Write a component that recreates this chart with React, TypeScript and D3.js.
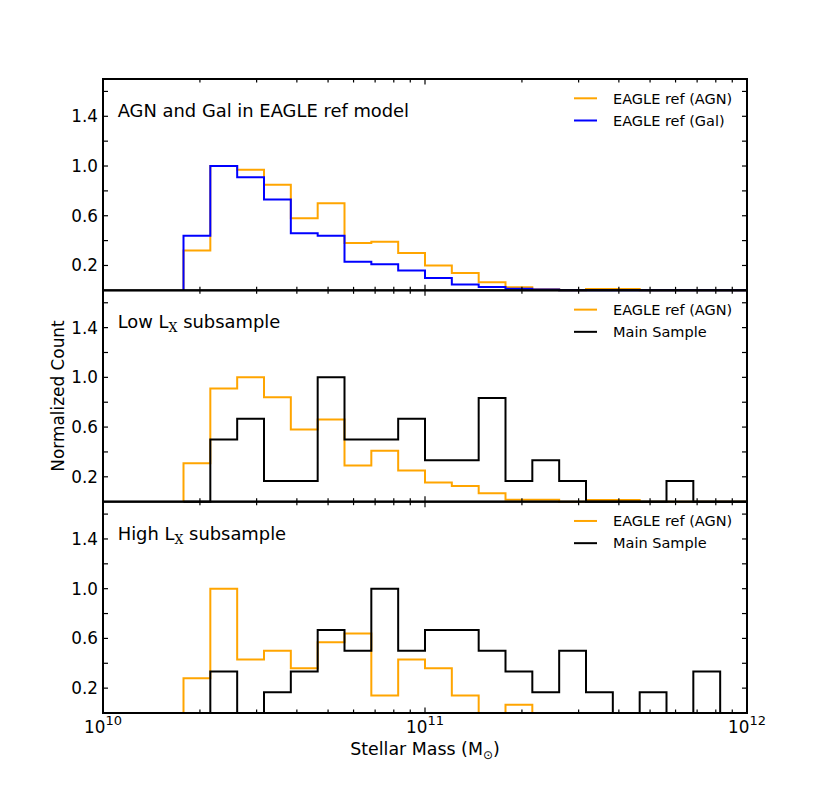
import React from "react";
import * as d3 from "d3";

// log10(stellar mass) bin edges
const binEdgesLog = [
  10.25, 10.3333, 10.4167, 10.5, 10.5833, 10.6667, 10.75, 10.8333, 10.9167, 11.0,
  11.0833, 11.1667, 11.25, 11.3333, 11.4167, 11.5, 11.5833, 11.6667, 11.75, 11.8333,
  11.9167, 12.0,
];

// Panel 1: AGN and Gal in EAGLE ref model
const topAgn = [0.32, 1.0, 0.97, 0.85, 0.58, 0.70, 0.38, 0.39, 0.30, 0.20, 0.14, 0.065, 0.025, 0.008, 0, 0.01, 0.01, 0, 0, 0, 0];
const topGal = [0.44, 1.0, 0.91, 0.73, 0.46, 0.44, 0.23, 0.21, 0.16, 0.10, 0.046, 0.027, 0.012, 0.006, 0, 0, 0, 0, 0, 0, 0];

// Panel 2: Low Lx subsample
const lowAgn = [0.31, 0.91, 1.0, 0.84, 0.58, 0.66, 0.29, 0.41, 0.25, 0.155, 0.127, 0.067, 0.016, 0.016, 0, 0.014, 0.014, 0, 0, 0, 0];
const lowMain = [0, 0.5, 0.667, 0.167, 0.167, 1.0, 0.5, 0.5, 0.667, 0.333, 0.333, 0.833, 0.167, 0.333, 0.167, 0, 0, 0, 0.167, 0, 0];

// Panel 3: High Lx subsample
const highAgn = [0.28, 1.0, 0.43, 0.5, 0.36, 0.57, 0.64, 0.14, 0.43, 0.36, 0.14, 0, 0.067, 0, 0, 0, 0, 0, 0, 0, 0];
const highMain = [0, 0.333, 0, 0.167, 0.333, 0.667, 0.5, 1.0, 0.5, 0.667, 0.667, 0.5, 0.333, 0.167, 0.5, 0.167, 0, 0.167, 0, 0.333, 0];

const yTicks = [0.2, 0.4, 0.6, 0.8, 1.0, 1.2, 1.4, 1.6];
const yTickLabels = ["0.2", "0.6", "1.0", "1.4"];
const xMajorExp = [10, 11, 12];
const xMinorMult = [2, 3, 4, 5, 6, 7, 8, 9];

const FONT = "DejaVu Sans";
const ORANGE = "#FFA500";
const BLUE = "#0000FF";
const BLACK = "#000000";

const W = 830, H = 793;
const X0 = 103, X1 = 747;
const TOP = 79, BOTTOM = 713;
const PH = (BOTTOM - TOP) / 3;

const xScale = d3.scaleLog().domain([1e10, 1e12]).range([X0, X1]);

type Series = { values: number[]; color: string; label: string };
type Panel = { title: string; sub?: string; series: Series[] };

const panels: Panel[] = [
  {
    title: "AGN and Gal in EAGLE ref model",
    series: [
      { values: topAgn, color: ORANGE, label: "EAGLE ref (AGN)" },
      { values: topGal, color: BLUE, label: "EAGLE ref (Gal)" },
    ],
  },
  {
    title: "Low L",
    sub: "subsample",
    series: [
      { values: lowAgn, color: ORANGE, label: "EAGLE ref (AGN)" },
      { values: lowMain, color: BLACK, label: "Main Sample" },
    ],
  },
  {
    title: "High L",
    sub: "subsample",
    series: [
      { values: highAgn, color: ORANGE, label: "EAGLE ref (AGN)" },
      { values: highMain, color: BLACK, label: "Main Sample" },
    ],
  },
];

function stepPath(values: number[], y: d3.ScaleLinear<number, number>) {
  const pts: [number, number][] = [];
  pts.push([binEdgesLog[0], 0]);
  values.forEach((v, i) => pts.push([binEdgesLog[i], v]));
  pts.push([binEdgesLog[values.length], 0]);
  const line = d3
    .line<[number, number]>()
    .x((d) => xScale(Math.pow(10, d[0])))
    .y((d) => y(d[1]))
    .curve(d3.curveStepAfter);
  return line(pts) || "";
}

function PanelView({ p, idx }: { p: Panel; idx: number }) {
  const top = TOP + idx * PH;
  const bot = top + PH;
  const y = d3.scaleLinear().domain([0, 1.7]).range([bot, top]);
  const isLast = idx === 2;
  const tickY = 5;
  const tickMaj = 5.5;
  const tickMin = 3.5;
  const xMinor: number[] = [];
  [10, 11].forEach((e) => xMinorMult.forEach((m) => xMinor.push(m * Math.pow(10, e))));

  return (
    <g>
      {p.series.map((s, i) => (
        <path key={i} d={stepPath(s.values, y)} fill="none" stroke={s.color} strokeWidth={2} strokeLinejoin="miter" />
      ))}
      {/* y ticks */}
      {yTicks.map((t, i) => (
        <g key={i}>
          <line x1={X0} x2={X0 + tickY} y1={y(t)} y2={y(t)} stroke="#000" strokeWidth={1.2} />
          <line x1={X1} x2={X1 - tickY} y1={y(t)} y2={y(t)} stroke="#000" strokeWidth={1.2} />
        </g>
      ))}
      {yTicks
        .filter((t) => yTickLabels.includes(t.toFixed(1)))
        .map((t, i) => (
          <text key={i} x={X0 - 5} y={y(t) + 6} textAnchor="end" fontFamily={FONT} fontSize={16.8} fill="#000">
            {t.toFixed(1)}
          </text>
        ))}
      {/* x ticks */}
      {xMajorExp.map((e, i) => {
        const xv = xScale(Math.pow(10, e));
        return (
          <g key={"M" + i}>
            <line x1={xv} x2={xv} y1={bot} y2={bot - tickMaj} stroke="#000" strokeWidth={1.2} />
            <line x1={xv} x2={xv} y1={top} y2={top + tickMaj} stroke="#000" strokeWidth={1.2} />
          </g>
        );
      })}
      {xMinor.map((v, i) => {
        const xv = xScale(v);
        return (
          <g key={"m" + i}>
            <line x1={xv} x2={xv} y1={bot} y2={bot - tickMin} stroke="#000" strokeWidth={1.2} />
            <line x1={xv} x2={xv} y1={top} y2={top + tickMin} stroke="#000" strokeWidth={1.2} />
          </g>
        );
      })}
      {isLast &&
        xMajorExp.map((e, i) => (
          <text key={"xl" + i} x={xScale(Math.pow(10, e))} y={733} textAnchor="middle" fontFamily={FONT} fontSize={16.8} fill="#000">
            10
            <tspan dy={-8.3} fontSize={13}>
              {String(e)}
            </tspan>
          </text>
        ))}
      {/* panel title */}
      <text x={117.7} y={top + 38} fontFamily={FONT} fontSize={17.9} fill="#000">
        {p.title}
        {p.sub && (
          <>
            <tspan dy={4} fontFamily="DejaVu Serif" fontSize={12.5}>
              X
            </tspan>
            <tspan dy={-4}>{" " + p.sub}</tspan>
          </>
        )}
      </text>
      {/* legend */}
      {p.series.map((s, i) => {
        const ly = top + 19.3 + i * 22.2;
        return (
          <g key={"lg" + i}>
            <line x1={574} x2={597} y1={ly} y2={ly} stroke={s.color} strokeWidth={2} />
            <text x={613} y={ly + 5.3} fontFamily={FONT} fontSize={14.5} fill="#000">
              {s.label}
            </text>
          </g>
        );
      })}
      {/* frame */}
      <rect x={X0} y={top} width={X1 - X0} height={PH} fill="none" stroke="#000" strokeWidth={2} />
    </g>
  );
}

export default function App() {
  return (
    <div style={{ position: "absolute", left: 0, top: 0 }}>
      <svg width={W} height={H} viewBox={`0 0 ${W} ${H}`} style={{ display: "block", background: "#fff" }}>
        <rect x={0} y={0} width={W} height={H} fill="#fff" />
        {panels.map((p, i) => (
          <PanelView key={i} p={p} idx={i} />
        ))}
        <text x={425} y={755} textAnchor="middle" fontFamily={FONT} fontSize={17.4} fill="#000">
          Stellar Mass (M
          <tspan dy={4} fontSize={12}>
            ⊙
          </tspan>
          <tspan dy={-4}>)</tspan>
        </text>
        <text
          transform={`translate(63.5, ${(TOP + BOTTOM) / 2}) rotate(-90)`}
          textAnchor="middle"
          fontFamily={FONT}
          fontSize={16.9}
          fill="#000"
        >
          Normalized Count
        </text>
      </svg>
    </div>
  );
}
